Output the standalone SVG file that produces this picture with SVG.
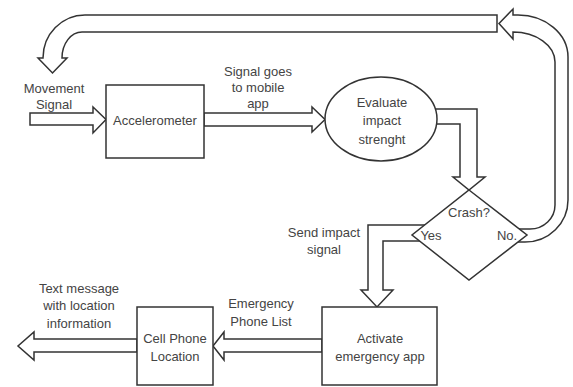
<svg xmlns="http://www.w3.org/2000/svg" width="573" height="387" viewBox="0 0 573 387">
<style>
.ln{fill:#fff;stroke:#333;stroke-width:1.5;stroke-linejoin:miter}
.t{font-family:"Liberation Sans",Arial,sans-serif;font-size:13px;fill:#444;text-anchor:middle;dominant-baseline:central}
</style>
<rect width="573" height="387" fill="#fff"/>
<g id="connectors">
<path class="ln" d="M497,15 H85 A42 43 0 0 0 43,58 H38 L52.5,73 L67,58 H62 A20 26 0 0 1 82,32 H497 Z"/>
<path class="ln" d="M515,229 H530 A25 24 0 0 0 555,205 V62 A42 30 0 0 0 513,32 V39 L499,23.5 L513,9 V15 H518 A50 42 0 0 1 568,57 V200 A43 42 0 0 1 525,242 H515 Z"/>
<path class="ln" d="M30,113 H93 V107 L106,119.5 L93,133 V125 H30 Z"/>
<path class="ln" d="M204,113 H312 V107 L325,119.5 L312,132 V126 H204 Z"/>
<path class="ln" d="M425,109 H477 V177 H485 L469,190 L453,177 H460 V124 H425 Z"/>
<path class="ln" d="M428,225 H368 V290 H361 L377,307 L393,290 H383 V241 H428 Z"/>
<path class="ln" d="M322,339 H224 V332 L213,346 L224,360 V352 H322 Z"/>
<path class="ln" d="M137,339 H34 V332 L18,346 L34,360 V352 H137 Z"/>
</g>
<g id="accelerometer">
<rect class="ln" x="106" y="85" width="98" height="73"/>
<text class="t" x="155" y="120">Accelerometer</text>
</g>
<g id="evaluate">
<ellipse class="ln" cx="381" cy="119" rx="56" ry="42"/>
<text class="t" x="382" y="102">Evaluate</text>
<text class="t" x="382" y="120">impact</text>
<text class="t" x="382" y="139">strenght</text>
</g>
<g id="crash">
<polygon class="ln" points="469,190 527,235 469,280 412,235"/>
<text class="t" x="469" y="212">Crash?</text>
<text class="t" x="431" y="235">Yes</text>
<text class="t" x="507" y="235">No.</text>
</g>
<g id="activate">
<rect class="ln" x="322" y="307" width="115" height="78"/>
<text class="t" x="380" y="338">Activate</text>
<text class="t" x="380" y="356">emergency app</text>
</g>
<g id="cellphone">
<rect class="ln" x="137" y="307" width="76" height="78"/>
<text class="t" x="175" y="338">Cell Phone</text>
<text class="t" x="175" y="356">Location</text>
</g>
<g id="labels">
<text class="t" x="54" y="88">Movement</text>
<text class="t" x="54" y="104">Signal</text>
<text class="t" x="258" y="71">Signal goes</text>
<text class="t" x="258" y="87">to mobile</text>
<text class="t" x="258" y="103">app</text>
<text class="t" x="324" y="232">Send impact</text>
<text class="t" x="324" y="249">signal</text>
<text class="t" x="261" y="303">Emergency</text>
<text class="t" x="261" y="321">Phone List</text>
<text class="t" x="79" y="288">Text message</text>
<text class="t" x="79" y="305">with location</text>
<text class="t" x="79" y="323">information</text>
</g>
</svg>
